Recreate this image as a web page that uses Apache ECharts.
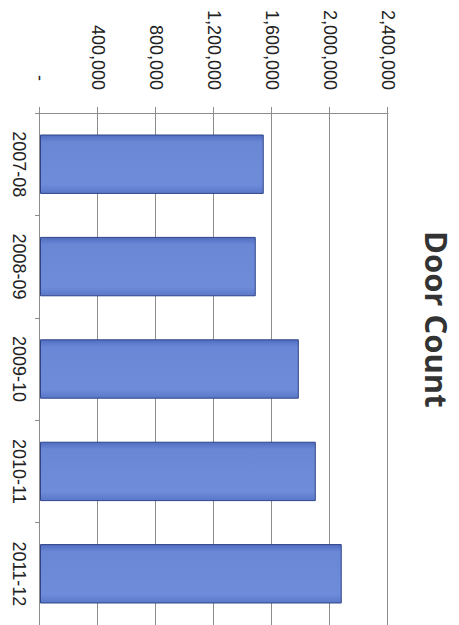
<!DOCTYPE html>
<html>
<head>
<meta charset="utf-8">
<script src="https://cdn.jsdelivr.net/npm/echarts@6/dist/echarts.min.js"></script>
<style>
  html, body { margin: 0; padding: 0; background: #fff; overflow: hidden; }
  /* chart is drawn upright (625 x 459) and turned a quarter clockwise */
  #myChart {
    position: absolute; left: 0; top: 0;
    width: 625px; height: 459px;
    transform-origin: 0 0;
    transform: translateX(459px) rotate(90deg);
  }
</style>
</head>
<body>
<div id="myChart"></div>
<script>
const years = ['2007-08', '2008-09', '2009-10', '2010-11', '2011-12']
const doorCount = [1543000, 1488000, 1785000, 1902000, 2081000]
const valueMax = 2400000
const valueStep = 400000

// 1,200,000 style, zero shown as a dash
function fmt (v) {
  if (v === 0) return '{d|-}'
  return String(v).replace(/\B(?=(\d{3})+(?!\d))/g, ',')
}

let myChart = echarts.init(document.getElementById('myChart'), null, { renderer: 'svg' })
myChart.setOption({
  backgroundColor: '#fff',
  animation: false,
  title: {
    text: 'Door Count',
    left: 231,
    top: 7,
    padding: 0,
    textStyle: {
      fontFamily: 'Open Sans',
      fontWeight: 'bold',
      fontSize: 31,
      color: '#333'
    }
  },
  grid: {
    left: 113,
    right: 0,
    top: 71,
    bottom: 40,
    containLabel: false
  },
  xAxis: {
    type: 'category',
    data: years,
    axisLine: { lineStyle: { color: '#8c8c8c', width: 1 } },
    axisTick: { show: true, length: 5, lineStyle: { color: '#8c8c8c' } },
    axisLabel: {
      margin: 12,
      fontFamily: 'Liberation Sans',
      fontSize: 18,
      color: '#222'
    }
  },
  yAxis: {
    type: 'value',
    min: 0,
    max: valueMax,
    interval: valueStep,
    axisLine: { show: true, lineStyle: { color: '#8c8c8c', width: 1 } },
    axisTick: { show: true, length: 6, lineStyle: { color: '#8c8c8c' } },
    splitLine: { lineStyle: { color: '#8c8c8c', width: 1 } },
    axisLabel: {
      margin: 23,
      fontFamily: 'Liberation Sans',
      fontSize: 18,
      color: '#222',
      formatter: fmt,
      rich: { d: { fontFamily: 'Liberation Sans', fontSize: 18, color: '#222', padding: [0, 9, 0, 0] } }
    }
  },
  series: [
    {
      name: 'Door Count',
      type: 'bar',
      data: doorCount,
      barCategoryGap: '42%',
      itemStyle: {
        color: {
          type: 'linear', x: 0, y: 0, x2: 1, y2: 0,
          colorStops: [
            { offset: 0, color: '#4f6cc0' },
            { offset: 0.12, color: '#6a87d6' },
            { offset: 0.85, color: '#6f8cda' },
            { offset: 1, color: '#5a77c8' }
          ]
        },
        borderColor: '#2f4488',
        borderWidth: 1
      }
    }
  ]
}, true)
</script>
</body>
</html>
